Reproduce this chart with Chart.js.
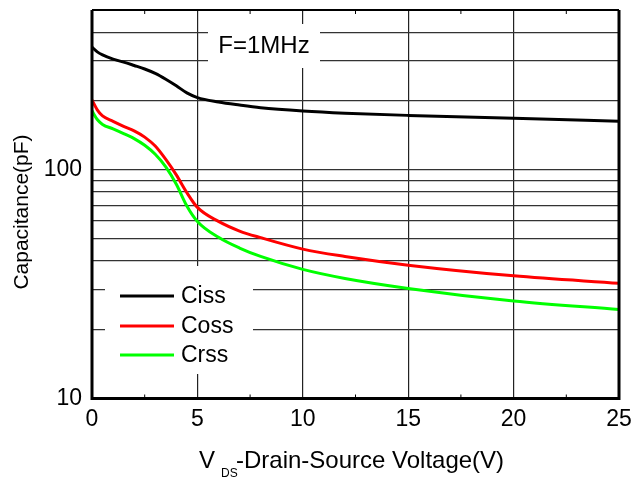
<!DOCTYPE html>
<html>
<head>
<meta charset="utf-8">
<script src="https://cdn.jsdelivr.net/npm/chart.js@4"></script>
<style>
  html, body { margin: 0; padding: 0; background: #fff; }
  #wrap { width: 634px; height: 480px; }
</style>
</head>
<body>
<div id="wrap"><canvas id="cap-chart" width="634" height="480"></canvas></div>
<script>
// V_DS (V)
const vds = [0, 0.25, 0.5, 1, 1.5, 2, 2.5, 3, 3.5, 4, 4.5, 5, 6, 7, 8, 10, 12, 15, 20, 25];
// capacitances (pF)
const ciss = [344, 328, 318, 305, 296, 286, 276, 264, 249, 233, 217, 207, 198, 192, 187, 181, 177, 173, 168, 163];
const coss = [202, 183, 172, 163, 155, 148, 139, 127, 111, 95, 79.5, 68.5, 59.5, 54, 50.5, 45, 41.8, 38.3, 34.4, 31.9];
const crss = [181, 166, 158, 151, 144, 137, 128, 117, 103, 86.5, 69.5, 59.5, 50.7, 45.5, 41.8, 36.7, 33.5, 30.3, 26.7, 24.5];

const xTicks = [0, 5, 10, 15, 20, 25];
const yGridValues = [10, 20, 30, 40, 50, 60, 70, 80, 90, 100, 200, 300, 400, 500];
const yLabelValues = [10, 100];

const FONT = '"Liberation Sans", Arial, sans-serif';

function pts(ys) {
  return vds.map((v, i) => ({ x: v, y: ys[i] }));
}

const decorations = {
  id: 'decorations',
  beforeDatasetsDraw(chart) {
    const ctx = chart.ctx;
    ctx.save();
    // white boxes behind legend and frequency note
    ctx.fillStyle = '#fff';
    ctx.fillRect(105, 266, 148, 108);
    ctx.fillRect(208, 24, 112, 44);

    ctx.fillStyle = '#000';
    ctx.font = '24px ' + FONT;
    ctx.textAlign = 'center';
    ctx.textBaseline = 'middle';
    ctx.fillText('F=1MHz', 264, 46);

    // legend
    const rows = [296, 326, 355];
    ctx.textAlign = 'left';
    ctx.font = '23px ' + FONT;
    chart.data.datasets.forEach((ds, i) => {
      ctx.strokeStyle = ds.borderColor;
      ctx.lineWidth = 3;
      ctx.beginPath();
      ctx.moveTo(120, rows[i]);
      ctx.lineTo(174, rows[i]);
      ctx.stroke();
      ctx.fillStyle = '#000';
      ctx.fillText(ds.label, 181, rows[i] + 1);
    });
    ctx.restore();
  },
  afterDraw(chart) {
    const ctx = chart.ctx;
    const a = chart.chartArea;
    const xs = chart.scales.x;
    ctx.save();
    ctx.strokeStyle = '#000';
    // frame
    ctx.lineWidth = 2;
    ctx.beginPath();
    ctx.moveTo(a.left, a.top);
    ctx.lineTo(a.right, a.top);
    ctx.stroke();
    ctx.lineWidth = 3;
    ctx.beginPath();
    ctx.moveTo(a.left, a.top);
    ctx.lineTo(a.left, a.bottom);
    ctx.lineTo(a.right, a.bottom);
    ctx.lineTo(a.right, a.top);
    ctx.stroke();
    // minor x ticks
    ctx.lineWidth = 1;
    for (let v = 2.5; v < 25; v += 5) {
      const px = xs.getPixelForValue(v);
      ctx.beginPath();
      ctx.moveTo(px, a.top);
      ctx.lineTo(px, a.top + 4);
      ctx.moveTo(px, a.bottom);
      ctx.lineTo(px, a.bottom - 4);
      ctx.stroke();
    }

    // axis titles
    ctx.fillStyle = '#000';
    ctx.textBaseline = 'alphabetic';
    ctx.textAlign = 'left';
    ctx.font = '24px ' + FONT;
    ctx.fillText('V', 199, 468);
    ctx.font = '12px ' + FONT;
    ctx.fillText('DS', 221, 477);
    ctx.font = '24px ' + FONT;
    ctx.fillText('-Drain-Source Voltage(V)', 236, 468);

    ctx.font = '21px ' + FONT;
    ctx.textBaseline = 'middle';
    ctx.translate(22, 212);
    ctx.rotate(-Math.PI / 2);
    ctx.textAlign = 'center';
    ctx.fillText('Capacitance(pF)', 0, 0);
    ctx.restore();
  }
};

new Chart(document.getElementById('cap-chart'), {
  type: 'line',
  data: {
    datasets: [
      { label: 'Ciss', data: pts(ciss), borderColor: '#000000' },
      { label: 'Coss', data: pts(coss), borderColor: '#ff0000' },
      { label: 'Crss', data: pts(crss), borderColor: '#00ff00' }
    ]
  },
  options: {
    responsive: false,
    animation: false,
    layout: { padding: { top: 10, right: 15, left: 0, bottom: 0 } },
    elements: {
      point: { radius: 0 },
      line: { borderWidth: 3, cubicInterpolationMode: 'monotone' }
    },
    plugins: { legend: { display: false }, tooltip: { enabled: false } },
    scales: {
      x: {
        type: 'linear',
        min: 0,
        max: 25,
        afterBuildTicks: s => { s.ticks = xTicks.map(v => ({ value: v })); },
        afterFit: s => { s.height = 81.5; s.paddingLeft = 0; s.paddingRight = 0; },
        grid: { color: '#222', lineWidth: 1.2, drawTicks: false },
        border: { display: false },
        ticks: { color: '#000', font: { family: FONT, size: 23 }, padding: 7, maxRotation: 0 }
      },
      y: {
        type: 'logarithmic',
        min: 10,
        max: 500,
        afterBuildTicks: s => { s.ticks = yGridValues.map(v => ({ value: v })); },
        afterFit: s => { s.width = 92; s.paddingTop = 0; s.paddingBottom = 0; },
        grid: { color: '#333', lineWidth: 1.2, drawTicks: false },
        border: { display: false },
        ticks: {
          color: '#000',
          font: { family: FONT, size: 23 },
          padding: 10,
          autoSkip: false,
          callback: v => (yLabelValues.includes(v) ? String(v) : '')
        }
      }
    }
  },
  plugins: [decorations]
});
</script>
</body>
</html>
